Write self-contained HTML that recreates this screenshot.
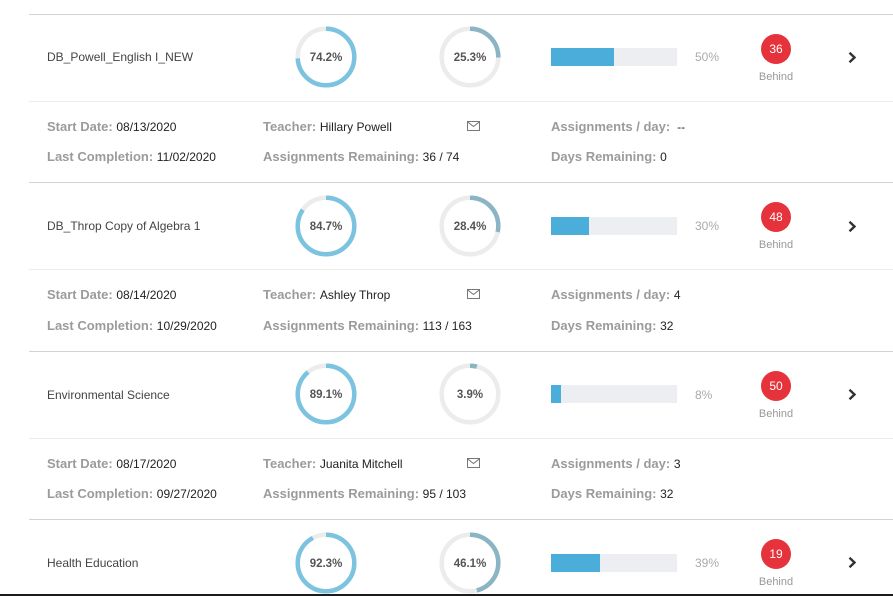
<!DOCTYPE html>
<html><head><meta charset="utf-8">
<style>
*{margin:0;padding:0;box-sizing:border-box}
body{width:893px;height:596px;overflow:hidden;background:#fff;font-family:"Liberation Sans",sans-serif;position:relative}
.a{position:absolute;white-space:nowrap}
.hl{position:absolute;left:29px;width:864px;height:1px;background:#d2d2d2}
.ll{position:absolute;left:29px;width:864px;height:1px;background:#ececec}
.name{font-size:12px;color:#444;line-height:14px}
.lab{font-size:13px;font-weight:bold;color:#9b9b9b;line-height:16px}
.val{font-weight:normal;font-size:12px;color:#222}
.pct{font-size:12px;color:#aaa;line-height:14px}
.beh{font-size:11px;color:#999;line-height:13px;width:40px;text-align:center}
.badge{width:30px;height:30px;border-radius:50%;background:#e5323b;color:#fff;font-size:12px;line-height:30px;text-align:center}
.bar{width:126px;height:18px;background:#eceef2}
.bar div{height:18px;background:#4badda}
.dtxt{font-size:11.5px;font-weight:bold;fill:#555;font-family:"Liberation Sans",sans-serif}
</style></head><body>

<!-- Row 1 T=14 -->
<div class="hl" style="top:14px"></div>
<div class="a name" style="left:47px;top:50px">DB_Powell_English I_NEW</div>
<svg class="a" style="left:294px;top:25px" width="64" height="64" viewBox="0 0 64 64">
<circle cx="32" cy="32" r="28.3" fill="none" stroke="#ececec" stroke-width="4.5"/>
<circle cx="32" cy="32" r="28.3" fill="none" stroke="#7cc3e0" stroke-width="4.5" pathLength="100" stroke-dasharray="74.2 100" transform="rotate(-90 32 32)"/>
<text x="32" y="36" text-anchor="middle" class="dtxt">74.2%</text></svg>
<svg class="a" style="left:438px;top:25px" width="64" height="64" viewBox="0 0 64 64">
<circle cx="32" cy="32" r="28.3" fill="none" stroke="#ececec" stroke-width="4.5"/>
<circle cx="32" cy="32" r="28.3" fill="none" stroke="#8bb4c4" stroke-width="4.5" pathLength="100" stroke-dasharray="25.3 100" transform="rotate(-90 32 32)"/>
<text x="32" y="36" text-anchor="middle" class="dtxt">25.3%</text></svg>
<div class="a bar" style="left:551px;top:48px"><div style="width:63px"></div></div>
<div class="a pct" style="left:695px;top:50px">50%</div>
<div class="a badge" style="left:761px;top:34px">36</div>
<div class="a beh" style="left:756px;top:71px">Behind</div>
<svg class="a" style="left:847px;top:51px" width="10" height="13" viewBox="0 0 10 13"><polyline points="2.5,1.8 7.5,6.5 2.5,11.2" fill="none" stroke="#333" stroke-width="2.4"/></svg>
<div class="ll" style="top:101px"></div>
<div class="a lab" style="left:47px;top:119px">Start Date: <span class="val">08/13/2020</span></div>
<div class="a lab" style="left:47px;top:149px">Last Completion: <span class="val">11/02/2020</span></div>
<div class="a lab" style="left:263px;top:119px">Teacher: <span class="val">Hillary Powell</span></div>
<div class="a lab" style="left:263px;top:149px">Assignments Remaining: <span class="val">36 / 74</span></div>
<svg class="a" style="left:467px;top:121px" width="13" height="10" viewBox="0 0 13 10"><rect x="0.5" y="0.5" width="12" height="9" fill="none" stroke="#777"/><polyline points="0.5,0.8 6.5,5.5 12.5,0.8" fill="none" stroke="#777"/></svg>
<div class="a lab" style="left:551px;top:119px">Assignments / day: <span class="val">&nbsp;--</span></div>
<div class="a lab" style="left:551px;top:149px">Days Remaining: <span class="val">0</span></div>

<!-- Row 2 T=182 -->
<div class="hl" style="top:182px"></div>
<div class="a name" style="left:47px;top:219px">DB_Throp Copy of Algebra 1</div>
<svg class="a" style="left:294px;top:194px" width="64" height="64" viewBox="0 0 64 64">
<circle cx="32" cy="32" r="28.3" fill="none" stroke="#ececec" stroke-width="4.5"/>
<circle cx="32" cy="32" r="28.3" fill="none" stroke="#7cc3e0" stroke-width="4.5" pathLength="100" stroke-dasharray="84.7 100" transform="rotate(-90 32 32)"/>
<text x="32" y="36" text-anchor="middle" class="dtxt">84.7%</text></svg>
<svg class="a" style="left:438px;top:194px" width="64" height="64" viewBox="0 0 64 64">
<circle cx="32" cy="32" r="28.3" fill="none" stroke="#ececec" stroke-width="4.5"/>
<circle cx="32" cy="32" r="28.3" fill="none" stroke="#8bb4c4" stroke-width="4.5" pathLength="100" stroke-dasharray="28.4 100" transform="rotate(-90 32 32)"/>
<text x="32" y="36" text-anchor="middle" class="dtxt">28.4%</text></svg>
<div class="a bar" style="left:551px;top:217px"><div style="width:38px"></div></div>
<div class="a pct" style="left:695px;top:219px">30%</div>
<div class="a badge" style="left:761px;top:202px">48</div>
<div class="a beh" style="left:756px;top:239px">Behind</div>
<svg class="a" style="left:847px;top:220px" width="10" height="13" viewBox="0 0 10 13"><polyline points="2.5,1.8 7.5,6.5 2.5,11.2" fill="none" stroke="#333" stroke-width="2.4"/></svg>
<div class="ll" style="top:269px"></div>
<div class="a lab" style="left:47px;top:287px">Start Date: <span class="val">08/14/2020</span></div>
<div class="a lab" style="left:47px;top:318px">Last Completion: <span class="val">10/29/2020</span></div>
<div class="a lab" style="left:263px;top:287px">Teacher: <span class="val">Ashley Throp</span></div>
<div class="a lab" style="left:263px;top:318px">Assignments Remaining: <span class="val">113 / 163</span></div>
<svg class="a" style="left:467px;top:289px" width="13" height="10" viewBox="0 0 13 10"><rect x="0.5" y="0.5" width="12" height="9" fill="none" stroke="#777"/><polyline points="0.5,0.8 6.5,5.5 12.5,0.8" fill="none" stroke="#777"/></svg>
<div class="a lab" style="left:551px;top:287px">Assignments / day: <span class="val">4</span></div>
<div class="a lab" style="left:551px;top:318px">Days Remaining: <span class="val">32</span></div>

<!-- Row 3 T=351 -->
<div class="hl" style="top:351px"></div>
<div class="a name" style="left:47px;top:388px">Environmental Science</div>
<svg class="a" style="left:294px;top:362px" width="64" height="64" viewBox="0 0 64 64">
<circle cx="32" cy="32" r="28.3" fill="none" stroke="#ececec" stroke-width="4.5"/>
<circle cx="32" cy="32" r="28.3" fill="none" stroke="#7cc3e0" stroke-width="4.5" pathLength="100" stroke-dasharray="89.1 100" transform="rotate(-90 32 32)"/>
<text x="32" y="36" text-anchor="middle" class="dtxt">89.1%</text></svg>
<svg class="a" style="left:438px;top:362px" width="64" height="64" viewBox="0 0 64 64">
<circle cx="32" cy="32" r="28.3" fill="none" stroke="#ececec" stroke-width="4.5"/>
<circle cx="32" cy="32" r="28.3" fill="none" stroke="#8bb4c4" stroke-width="4.5" pathLength="100" stroke-dasharray="3.9 100" transform="rotate(-90 32 32)"/>
<text x="32" y="36" text-anchor="middle" class="dtxt">3.9%</text></svg>
<div class="a bar" style="left:551px;top:385px"><div style="width:10px"></div></div>
<div class="a pct" style="left:695px;top:388px">8%</div>
<div class="a badge" style="left:761px;top:371px">50</div>
<div class="a beh" style="left:756px;top:408px">Behind</div>
<svg class="a" style="left:847px;top:388px" width="10" height="13" viewBox="0 0 10 13"><polyline points="2.5,1.8 7.5,6.5 2.5,11.2" fill="none" stroke="#333" stroke-width="2.4"/></svg>
<div class="ll" style="top:438px"></div>
<div class="a lab" style="left:47px;top:456px">Start Date: <span class="val">08/17/2020</span></div>
<div class="a lab" style="left:47px;top:486px">Last Completion: <span class="val">09/27/2020</span></div>
<div class="a lab" style="left:263px;top:456px">Teacher: <span class="val">Juanita Mitchell</span></div>
<div class="a lab" style="left:263px;top:486px">Assignments Remaining: <span class="val">95 / 103</span></div>
<svg class="a" style="left:467px;top:458px" width="13" height="10" viewBox="0 0 13 10"><rect x="0.5" y="0.5" width="12" height="9" fill="none" stroke="#777"/><polyline points="0.5,0.8 6.5,5.5 12.5,0.8" fill="none" stroke="#777"/></svg>
<div class="a lab" style="left:551px;top:456px">Assignments / day: <span class="val">3</span></div>
<div class="a lab" style="left:551px;top:486px">Days Remaining: <span class="val">32</span></div>

<!-- Row 4 T=519 -->
<div class="hl" style="top:519px"></div>
<div class="a name" style="left:47px;top:556px">Health Education</div>
<svg class="a" style="left:294px;top:531px" width="64" height="64" viewBox="0 0 64 64">
<circle cx="32" cy="32" r="28.3" fill="none" stroke="#ececec" stroke-width="4.5"/>
<circle cx="32" cy="32" r="28.3" fill="none" stroke="#7cc3e0" stroke-width="4.5" pathLength="100" stroke-dasharray="92.3 100" transform="rotate(-90 32 32)"/>
<text x="32" y="36" text-anchor="middle" class="dtxt">92.3%</text></svg>
<svg class="a" style="left:438px;top:531px" width="64" height="64" viewBox="0 0 64 64">
<circle cx="32" cy="32" r="28.3" fill="none" stroke="#ececec" stroke-width="4.5"/>
<circle cx="32" cy="32" r="28.3" fill="none" stroke="#8bb4c4" stroke-width="4.5" pathLength="100" stroke-dasharray="46.1 100" transform="rotate(-90 32 32)"/>
<text x="32" y="36" text-anchor="middle" class="dtxt">46.1%</text></svg>
<div class="a bar" style="left:551px;top:554px"><div style="width:49px"></div></div>
<div class="a pct" style="left:695px;top:556px">39%</div>
<div class="a badge" style="left:761px;top:539px">19</div>
<div class="a beh" style="left:756px;top:576px">Behind</div>
<svg class="a" style="left:847px;top:556px" width="10" height="13" viewBox="0 0 10 13"><polyline points="2.5,1.8 7.5,6.5 2.5,11.2" fill="none" stroke="#333" stroke-width="2.4"/></svg>

<div class="a" style="left:0;top:594px;width:893px;height:2px;background:#1c1c1c"></div>
</body></html>
